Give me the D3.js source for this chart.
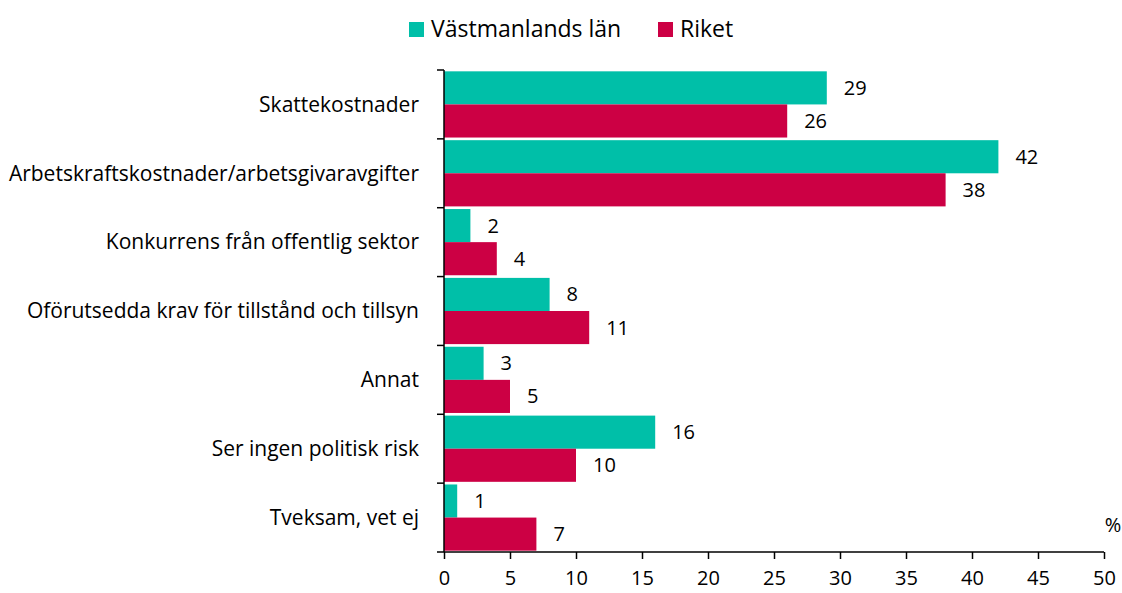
<!DOCTYPE html>
<html><head><meta charset="utf-8">
<script src="https://cdn.jsdelivr.net/npm/d3@7"></script>
<style>body{margin:0;background:#fff}svg{display:block}text{font-family:"Open Sans",sans-serif;fill:#000}</style>
</head><body><svg id="c" width="1122" height="593"></svg>
<script>
const categories = ["Skattekostnader","Arbetskraftskostnader/arbetsgivaravgifter","Konkurrens från offentlig sektor","Oförutsedda krav för tillstånd och tillsyn","Annat","Ser ingen politisk risk","Tveksam, vet ej"];
const seriesNames = ["Västmanlands län","Riket"];
const vastmanland = [29,42,2,8,3,16,1];
const riket = [26,38,4,11,5,10,7];
const xTicks = [0,5,10,15,20,25,30,35,40,45,50];
const colors = ["#00BFA8","#CC0044"];

const svg = d3.select("#c");
const x = d3.scaleLinear().domain([0,50]).range([444,1104]);
const y = d3.scaleBand().domain(categories).range([70,552]).paddingInner(0).paddingOuter(0);
const yInner = d3.scaleBand().domain([0,1]).range([0,y.bandwidth()]).paddingOuter(0.04).paddingInner(0);
const series = [vastmanland, riket];

series.forEach((vals,si)=>{
  svg.append("g").selectAll("rect").data(categories).join("rect")
    .attr("x", x(0)).attr("y", c=>y(c)+yInner(si))
    .attr("width", (c,i)=>x(vals[i])-x(0)).attr("height", yInner.bandwidth())
    .attr("fill", colors[si]);
  svg.append("g").selectAll("text").data(categories).join("text")
    .attr("x",(c,i)=>x(vals[i])+17).attr("y", c=>y(c)+yInner(si)+yInner.bandwidth()/2)
    .attr("dy","0.35em").attr("font-size",20).text((c,i)=>vals[i]);
});

// axes
const yAxisG = svg.append("g").attr("transform",`translate(${x(0)},0)`);
yAxisG.append("line").attr("x1",0).attr("x2",0).attr("y1",70).attr("y2",552).attr("stroke","#000").attr("stroke-width",1.5);
const bounds = categories.map(c=>y(c)).concat([552]);
yAxisG.selectAll("line.t").data(bounds).join("line").attr("class","t")
  .attr("x1",-7).attr("x2",0).attr("y1",d=>d).attr("y2",d=>d).attr("stroke","#000").attr("stroke-width",1.5);
svg.append("g").selectAll("text").data(categories).join("text")
  .attr("x",419).attr("y",c=>y(c)+y.bandwidth()/2).attr("dy","0.35em")
  .attr("text-anchor","end").attr("font-size",21).text(c=>c);

const xAxis = d3.axisBottom(x).tickValues(xTicks).tickSize(7).tickPadding(12);
const xg = svg.append("g").attr("transform","translate(0,552)").call(xAxis);
xg.select(".domain").attr("stroke","#000").attr("stroke-width",1.5).attr("d","M444,0H1104");
xg.selectAll(".tick line").attr("stroke","#000").attr("stroke-width",1.5);
xg.selectAll(".tick text").attr("font-size",20).attr("font-family","'Open Sans',sans-serif").attr("fill","#000");

svg.append("text").attr("x",1113).attr("y",525).attr("dy","0.35em").attr("text-anchor","middle").attr("font-size",20).text("%");

// legend
const legendItems = [{x:409,tx:431},{x:658,tx:680}];
seriesNames.forEach((n,i)=>{
  svg.append("rect").attr("x",legendItems[i].x).attr("y",22).attr("width",15).attr("height",15).attr("fill",colors[i]);
  svg.append("text").attr("x",legendItems[i].tx).attr("y",29).attr("dy","0.35em").attr("font-size",23).text(n);
});
</script></body></html>
